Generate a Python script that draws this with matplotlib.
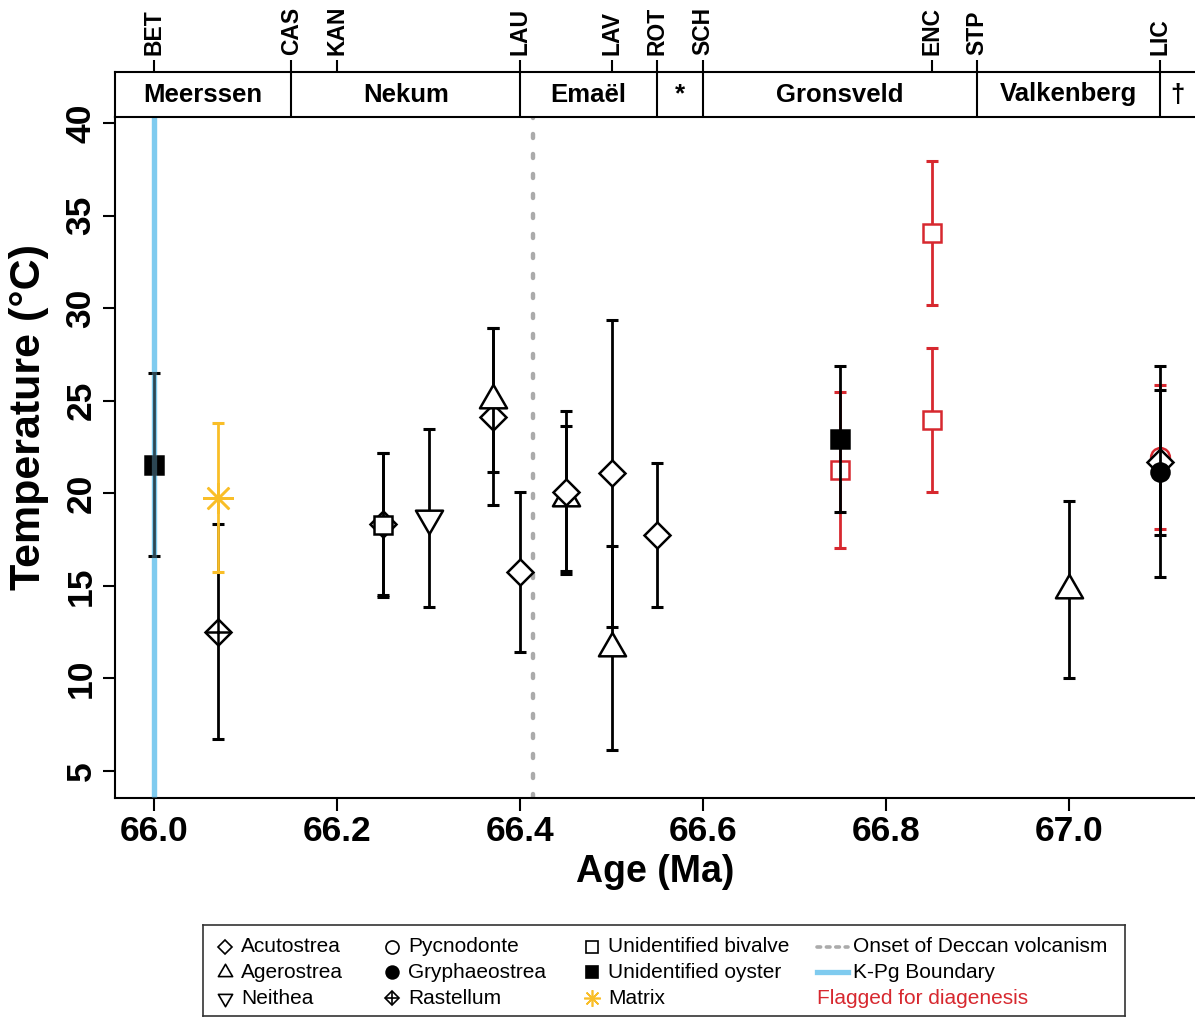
import matplotlib
matplotlib.use('Agg')
import matplotlib.pyplot as plt
import numpy as np
from matplotlib.path import Path

plt.rcParams['font.family'] = ['Liberation Sans', 'DejaVu Sans']

# localities along the top
loc_names = ['BET', 'CAS', 'KAN', 'LAU', 'LAV', 'ROT', 'SCH', 'ENC', 'STP', 'LIC']
loc_ages = [66.00, 66.15, 66.20, 66.40, 66.50, 66.55, 66.60, 66.85, 66.90, 67.10]

# formations in the band
stage_names = ['Meerssen', 'Nekum', 'Emaël', '*', 'Gronsveld', 'Valkenberg', '†']
stage_bounds = [66.15, 66.40, 66.55, 66.60, 66.90, 67.10]

# samples (drawing order matters for overlaps)
ages = [66.00, 66.07, 66.07, 66.25, 66.25, 66.30, 66.37, 66.37, 66.40, 66.45,
        66.45, 66.50, 66.50, 66.55, 66.75, 66.75, 66.85, 66.85, 67.00, 67.10,
        67.10, 67.10]
temps = [21.55, 12.53, 19.75, 18.35, 18.28, 18.65, 24.14, 25.05, 15.75, 19.73,
         20.05, 21.07, 11.64, 17.74, 21.25, 22.94, 34.07, 23.96, 14.80, 21.97,
         21.66, 21.15]
errs = [4.93, 5.81, 4.03, 3.85, 3.90, 4.80, 4.78, 3.90, 4.30, 3.91,
        4.41, 8.30, 5.50, 3.89, 4.20, 3.93, 3.90, 3.90, 4.80, 3.90,
        3.92, 5.70]
taxa = ['Unidentified oyster', 'Rastellum', 'Matrix', 'Acutostrea', 'Unidentified bivalve',
        'Neithea', 'Acutostrea', 'Agerostrea', 'Acutostrea', 'Agerostrea',
        'Acutostrea', 'Acutostrea', 'Agerostrea', 'Acutostrea', 'Unidentified bivalve',
        'Unidentified oyster', 'Unidentified bivalve', 'Unidentified bivalve', 'Agerostrea',
        'Pycnodonte', 'Acutostrea', 'Gryphaeostrea']
flagged = [False, False, False, False, False, False, False, False, False, False,
           False, False, False, False, True, False, True, True, False, True,
           False, False]

kpg_age = 66.0
deccan_age = 66.414

RED = '#D7282F'
YELLOW = '#F9BE28'
BLUE = '#7FCBEF'
GREY = '#ABABAB'

tri_up = Path([(0, 1.555), (1.347, -0.778), (-1.347, -0.778), (0, 1.555)],
              [Path.MOVETO, Path.LINETO, Path.LINETO, Path.CLOSEPOLY])
tri_dn = Path([(0, -1.555), (1.347, 0.778), (-1.347, 0.778), (0, -1.555)],
              [Path.MOVETO, Path.LINETO, Path.LINETO, Path.CLOSEPOLY])

# marker, size in plot, size in legend, filled
styles = {
    'Acutostrea': ('D', 13.5, 7.2, False),
    'Agerostrea': (tri_up, 22.5, 11.8, False),
    'Neithea': (tri_dn, 22.5, 11.8, False),
    'Pycnodonte': ('o', 13.5, 9.4, False),
    'Gryphaeostrea': ('o', 13, 9.2, True),
    'Rastellum': ('D', 13.5, 7.2, False),
    'Unidentified bivalve': ('s', 13, 8.4, False),
    'Unidentified oyster': ('s', 13, 8.4, True),
    'Matrix': ((8, 2, 0), 22, 12, False),
}

fig = plt.figure(figsize=(11.95, 10.18), dpi=100)
W, H = 1195.0, 1018.0
ax = fig.add_axes([115 / W, 1 - 798 / H, 1 - 115 / W, (798 - 117) / H])
xlim = (65.957, 67.138)
ax.set_xlim(*xlim)
ax.set_ylim(3.54, 40.32)

# K-Pg boundary and Deccan onset
ax.axvline(kpg_age, color=BLUE, lw=3.8, zorder=1)
ax.axvline(kpg_age, color=BLUE, lw=3.8, alpha=0.35, zorder=5)
ax.axvline(deccan_age, color=GREY, lw=3.2, ls=(0, (0.9, 3.6)),
           dash_capstyle='round', zorder=1)

for a, t, e, tx, fl in zip(ages, temps, errs, taxa, flagged):
    mk, ms, _, filled = styles[tx]
    col = RED if fl else ('black' if tx != 'Matrix' else YELLOW)
    face = col if filled else 'white'
    if tx == 'Matrix':
        face = col
    ax.errorbar(a, t, yerr=e, fmt='none', ecolor=col, elinewidth=2.0,
                capsize=4, capthick=2.2, zorder=2)
    ax.plot(a, t, marker=mk, ms=ms, mfc=face, mec=col, mew=1.8,
            ls='none', zorder=2)
    if tx == 'Rastellum':
        ax.plot(a, t, marker='+', ms=ms * 1.414, mec=col, mew=1.8,
                ls='none', zorder=2)

ax.spines['top'].set_visible(False)
ax.spines['right'].set_visible(False)
for s in ('left', 'bottom'):
    ax.spines[s].set_linewidth(1.5)
ax.set_xticks([66.0, 66.2, 66.4, 66.6, 66.8, 67.0])
ax.set_xticklabels(['66.0', '66.2', '66.4', '66.6', '66.8', '67.0'])
ax.set_yticks([5, 10, 15, 20, 25, 30, 35, 40])
ax.tick_params(axis='both', length=9, width=1.5, labelsize=25.5)
for lab in ax.get_xticklabels() + ax.get_yticklabels():
    lab.set_fontweight('bold')
for lab in ax.get_yticklabels():
    lab.set_rotation(90)
    lab.set_va('center')
ax.set_xlabel('Age (Ma)', fontsize=27, fontweight='bold', labelpad=4)
ax.set_ylabel('Temperature (°C)', fontsize=31, fontweight='bold')
ax.yaxis.set_label_coords(-0.061, 0.56)

# formation band
bax = fig.add_axes([115 / W, 1 - 117 / H, 1 - 115 / W, 45 / H])
bax.set_xlim(*xlim)
bax.set_ylim(0, 1)
bax.set_yticks([])
bax.spines['right'].set_visible(False)
for s in ('left', 'top', 'bottom'):
    bax.spines[s].set_linewidth(1.5)
for b in stage_bounds:
    bax.axvline(b, color='black', lw=1.5)
edges = [xlim[0]] + stage_bounds + [xlim[1]]
for name, lo, hi in zip(stage_names, edges[:-1], edges[1:]):
    bax.text((lo + hi) / 2, 0.5, name, ha='center', va='center',
             fontsize=18.5, fontweight='bold')
bax.xaxis.tick_top()
bax.set_xticks(loc_ages)
bax.set_xticklabels(loc_names, rotation=90, fontsize=16.5, fontweight='bold')
bax.tick_params(axis='x', length=9, width=1.5, pad=3)

# legend box drawn by hand
lax = fig.add_axes([203 / W, 1 - 1016 / H, 922 / W, 91 / H])
lax.set_xlim(0, 922)
lax.set_ylim(91, 0)
lax.set_xticks([])
lax.set_yticks([])
for s in lax.spines.values():
    s.set_linewidth(1.2)
    s.set_color('#333333')

leg_cols = [
    ['Acutostrea', 'Agerostrea', 'Neithea'],
    ['Pycnodonte', 'Gryphaeostrea', 'Rastellum'],
    ['Unidentified bivalve', 'Unidentified oyster', 'Matrix'],
]
col_x = [22, 189, 389]
row_y = [22, 47, 73]
for cx, names in zip(col_x, leg_cols):
    for ry, name in zip(row_y, names):
        mk, _, lms, filled = styles[name]
        col = YELLOW if name == 'Matrix' else 'black'
        face = col if (filled or name == 'Matrix') else 'white'
        lax.plot(cx, ry, marker=mk, ms=lms, mfc=face, mec=col, mew=1.2, ls='none')
        if name == 'Rastellum':
            lax.plot(cx, ry, marker='+', ms=lms * 1.414, mec=col, mew=1.2, ls='none')
        lax.text(cx + 16, ry, name, ha='left', va='center', fontsize=15)

lax.plot([614, 645], [row_y[0], row_y[0]], color=GREY, lw=2.6, ls=(0, (1.0, 1.6)),
         dash_capstyle='round')
lax.text(650, row_y[0], 'Onset of Deccan volcanism', ha='left', va='center', fontsize=15)
lax.plot([614, 645], [row_y[1], row_y[1]], color=BLUE, lw=3.8)
lax.text(650, row_y[1], 'K-Pg Boundary', ha='left', va='center', fontsize=15)
lax.text(614, row_y[2], 'Flagged for diagenesis', ha='left', va='center',
         fontsize=15, color=RED)

fig.savefig('out.png', dpi=100)
